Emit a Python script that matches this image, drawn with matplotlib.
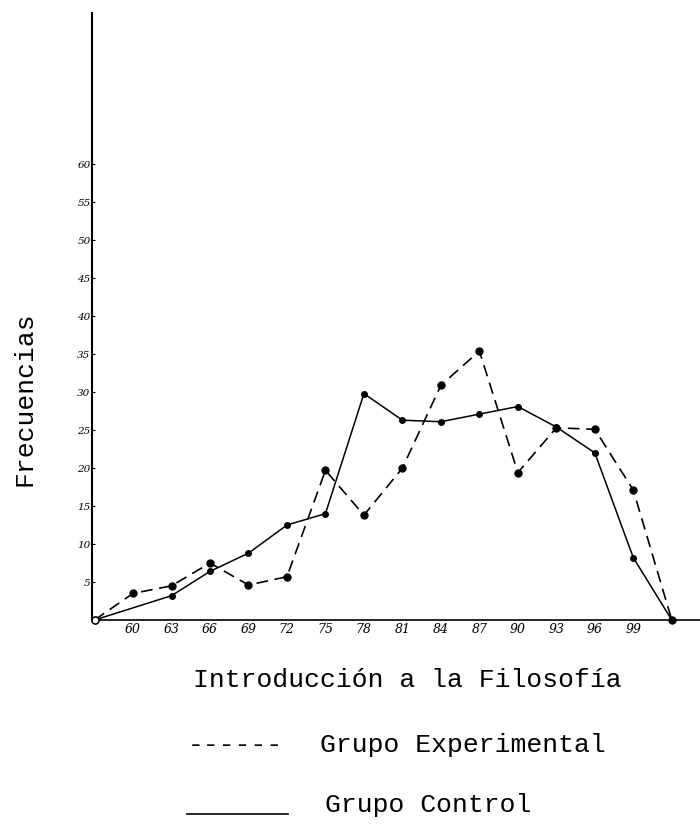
import matplotlib
matplotlib.use("Agg")
import matplotlib.pyplot as plt

# Data
exp_x = [57, 60, 63, 66, 69, 72, 75, 78, 81, 84, 87, 90, 93, 96, 99, 102]
exp_y = [0, 3.5, 4.5, 7.5, 4.6, 5.7, 19.7, 13.8, 20.0, 30.9, 35.4, 19.4, 25.3, 25.1, 17.1, 0]
ctl_x = [57, 63, 66, 69, 72, 75, 78, 81, 84, 87, 90, 93, 96, 99, 102]
ctl_y = [0, 3.2, 6.4, 8.8, 12.5, 14.0, 29.8, 26.3, 26.1, 27.1, 28.1, 25.4, 22.0, 8.2, 0]
x_ticks = [60, 63, 66, 69, 72, 75, 78, 81, 84, 87, 90, 93, 96, 99]
y_ticks = [5, 10, 15, 20, 25, 30, 35, 40, 45, 50, 55, 60]

W, H = 700, 826
fig = plt.figure(figsize=(W / 100, H / 100), dpi=100)
ax = fig.add_axes([92 / W, (H - 620) / H, (700 - 92) / W, (620 - 13) / H])
ax.set_xlim(56.8, 104.2)
ax.set_ylim(0, 79.9)

ax.plot(exp_x, exp_y, color="black", lw=1.2, dashes=(7, 4),
        marker="o", markersize=5, markerfacecolor="black", clip_on=False)
ax.plot(ctl_x[1:-1], ctl_y[1:-1], "o", color="black", markersize=4)
ax.plot(ctl_x, ctl_y, color="black", lw=1.1, clip_on=False)
ax.plot([57], [0], marker="o", markersize=5, markerfacecolor="white",
        markeredgecolor="black", clip_on=False, zorder=5)

for s in ["top", "right"]:
    ax.spines[s].set_visible(False)
ax.spines["left"].set_linewidth(1.5)
ax.spines["bottom"].set_linewidth(1.2)

ax.set_xticks(x_ticks)
ax.set_xticklabels([str(v) for v in x_ticks], fontstyle="italic", fontsize=9,
                   family="DejaVu Serif")
ax.tick_params(axis="x", length=0, pad=2)
ax.set_yticks(y_ticks)
ax.set_yticklabels([str(v) for v in y_ticks], fontstyle="italic", fontsize=7.5,
                   family="DejaVu Serif")
ax.tick_params(axis="y", length=2, pad=1, direction="in")

mono = "Liberation Mono"
fs = 19
fig.text(25 / W, 1 - 399 / H, "Frecuencias", rotation=90, ha="center", va="center",
         family=mono, fontsize=fs)
fig.text(193 / W, 1 - 680 / H, "Introducción a la Filosofía", ha="left", va="center",
         family=mono, fontsize=fs)
fig.text(188 / W, 1 - 745 / H, "------", ha="left", va="center",
         family=mono, fontsize=fs)
fig.text(320 / W, 1 - 745 / H, "Grupo Experimental", ha="left", va="center",
         family=mono, fontsize=fs)
fig.lines.append(plt.Line2D([187 / W, 288 / W], [1 - 814 / H, 1 - 814 / H],
                            transform=fig.transFigure, color="black", lw=1.2))
fig.text(325 / W, 1 - 805 / H, "Grupo Control", ha="left", va="center",
         family=mono, fontsize=fs)

fig.savefig("out.png", dpi=100)
